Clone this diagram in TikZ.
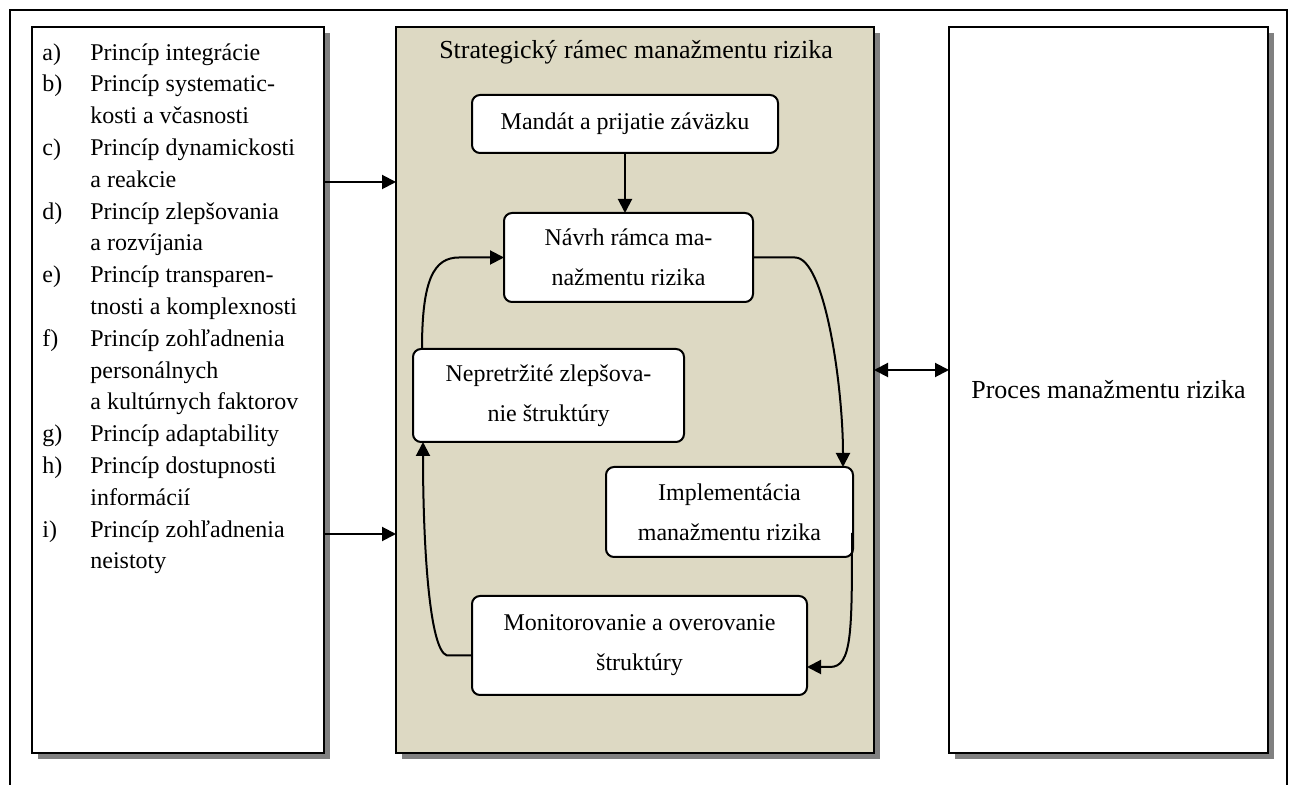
\documentclass[tikz,border=0pt]{standalone}
\usepackage{fontspec}
\setmainfont{Liberation Serif}
\usetikzlibrary{arrows.meta,shadows,calc}
\definecolor{frame}{RGB}{221,217,195}
\newcommand{\plab}[1]{\makebox[24pt][l]{#1}}

\begin{document}
\begin{tikzpicture}[x=0.5pt, y=-0.5pt,
    panel/.style={draw, line width=1pt, fill=#1, inner sep=0pt, outer sep=0pt,
                  minimum height=363pt,
                  drop shadow={shadow xshift=3pt, shadow yshift=-3pt, fill=black!50, opacity=1}},
    stepbox/.style={draw, line width=1pt, fill=white, rounded corners=4pt,
                    inner sep=0pt, outer sep=0pt, align=center,
                    font=\fontsize{12}{20}\selectfont},
    arr/.style={-{Triangle[length=7pt, width=7pt]}, line width=1pt},
    dbl/.style={{Triangle[length=7pt, width=7pt]}-{Triangle[length=7pt, width=7pt]}, line width=1pt}]

    \useasboundingbox (0,0) rectangle (1297,785);

    % outer frame, open at the bottom
    \draw[line width=0.8pt] (10,785) -- (10,10) -- (1287,10) -- (1287,785);

    % main panels
    \node[panel=white, minimum width=146pt]   (principles) at (178,390) {};
    \node[panel=frame, minimum width=239pt]   (framework)  at (635,390) {};
    \node[panel=white, minimum width=159.5pt, font=\fontsize{13}{16}\selectfont]
          (process) at (1108.5,390) {Proces manažmentu rizika};

    \node[font=\fontsize{13}{16}\selectfont] (title) at (636,52) {Strategický rámec manažmentu rizika};

    % list of principles
    \node[anchor=north west, align=left, inner sep=0pt, font=\fontsize{12}{15.9}\selectfont]
          (list) at (42,43) {%
      \plab{a)}Princíp integrácie\\
      \plab{b)}Princíp systematic-\\
      \plab{}kosti a včasnosti\\
      \plab{c)}Princíp dynamickosti\\
      \plab{}a reakcie\\
      \plab{d)}Princíp zlepšovania\\
      \plab{}a rozvíjania\\
      \plab{e)}Princíp transparen-\\
      \plab{}tnosti a komplexnosti\\
      \plab{f)}Princíp zohľadnenia\\
      \plab{}personálnych\\
      \plab{}a kultúrnych faktorov\\
      \plab{g)}Princíp adaptability\\
      \plab{h)}Princíp dostupnosti\\
      \plab{}informácií\\
      \plab{i)}Princíp zohľadnenia\\
      \plab{}neistoty};

    % cycle steps
    \node[stepbox, minimum width=153pt,   minimum height=29pt]   (mandate)   at (625,124)     {Mandát a prijatie záväzku};
    \node[stepbox, minimum width=124.5pt, minimum height=44.5pt] (design)    at (628.5,257.5) {Návrh rámca ma-\\nažmentu rizika};
    \node[stepbox, minimum width=135.5pt, minimum height=46.5pt] (improve)   at (548.5,395.5) {Nepretržité zlepšova-\\nie štruktúry};
    \node[stepbox, minimum width=123.5pt, minimum height=45pt]   (implement) at (729.5,512)   {Implementácia\\manažmentu rizika};
    \node[stepbox, minimum width=167.5pt, minimum height=49.5pt] (monitor)   at (639.5,645.5) {Monitorovanie a overovanie\\štruktúry};

    % inputs and exchange
    \draw[arr] (principles.east |- 0,182) -- (framework.west |- 0,182);
    \draw[arr] (principles.east |- 0,534) -- (framework.west |- 0,534);
    \draw[dbl] (framework.east |- 0,370) -- (process.west |- 0,370);

    % cycle
    \draw[arr] (mandate.south) -- (mandate.south |- design.north);
    \draw[arr] (design.east) -- ++(42,0)
      .. controls +(30,0) and +(0,-80) .. ($(implement.north east)+(-10,0)$);
    \draw[arr] ($(implement.east)+(-1,21)$)
      .. controls +(0,100) and +(22,0) .. ($(monitor.east)+(23,21.5)$) -- ($(monitor.east)+(0,21.5)$);
    \draw[arr] ($(monitor.west)+(0,10)$) -- ++(-25,0)
      .. controls +(-18,-5) and +(0,100) .. ($(improve.south west)+(10,0)$);
    \draw[arr] ($(improve.north west)+(9,0)$)
      .. controls +(0,-70) and +(-25,0) .. ($(design.west)+(-45,0)$) -- (design.west);
\end{tikzpicture}
\end{document}
